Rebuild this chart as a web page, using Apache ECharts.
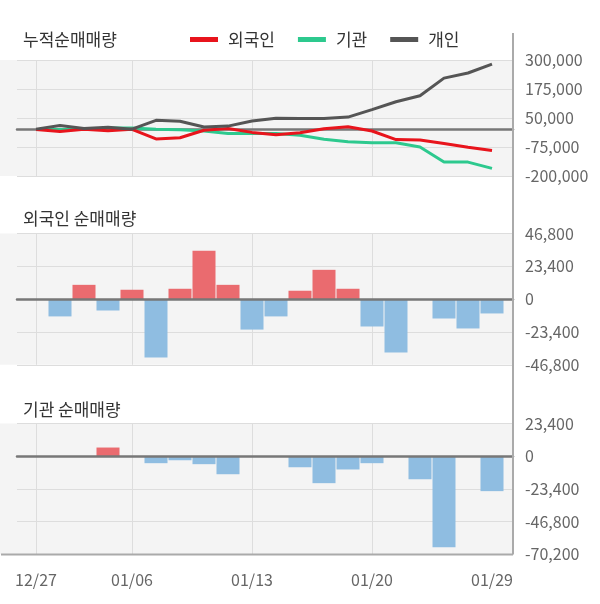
<!DOCTYPE html>
<html>
<head>
<meta charset="utf-8">
<script src="https://cdn.jsdelivr.net/npm/echarts@6/dist/echarts.min.js"></script>
<style>
html,body{margin:0;padding:0;background:#fff;}
#chart{width:600px;height:604px;}
</style>
</head>
<body>
<div id="chart"></div>
<script>
const dates = ['12/27','12/30','01/02','01/03','01/06','01/07','01/08','01/09','01/10','01/13','01/14','01/15','01/16','01/17','01/20','01/21','01/22','01/23','01/28','01/29'];
const labelDays = ['12/27','01/06','01/13','01/20','01/29'];
const gridDays = ['12/27','01/06','01/13','01/20'];

const cumForeign = [0,-8000,1000,-5000,1000,-40000,-35000,-3000,5000,-12000,-22000,-14000,4000,12000,-6000,-43000,-45000,-60000,-76000,-90000];
const cumInst = [0,0,0,7000,7000,2000,-1000,-6000,-17000,-17000,-17000,-24000,-42000,-52000,-57000,-57000,-75000,-140000,-140000,-167000];
const cumIndiv = [2000,18000,5000,10000,2000,40000,36000,11000,15000,37000,49000,48000,48000,54000,86000,120000,146000,222000,244000,282000];

const dailyForeign = [0,-12300,10200,-8100,6700,-41600,7400,34500,10200,-21700,-12300,6000,20900,7400,-19500,-38000,0,-13800,-20900,-10200];
const dailyInst = [0,0,0,6200,0,-5000,-2900,-5700,-12900,0,0,-7900,-19300,-9500,-5000,0,-16500,-65100,0,-25000];

const titles = ['누적순매매량','외국인 순매매량','기관 순매매량'];
const seriesNames = ['외국인','기관','개인'];

const FONT = '"Noto Sans CJK KR", "Noto Sans", sans-serif';
const RED = '#e8141c', GREEN = '#2dc98e', DARK = '#555555';
const BAR_RED = '#ea6b6f', BAR_BLUE = '#8fbde1';

const panels = [
  {top:60, height:116, min:-200000, max:300000, interval:125000, titleY:40},
  {top:233.5, height:131.3, min:-46800, max:46800, interval:23400, titleY:219},
  {top:423.5, height:130.8, min:-70200, max:23400, interval:23400, titleY:410}
];

function addCommas(v){
  const s = Math.abs(Math.round(v)).toString().replace(/\B(?=(\d{3})+(?!\d))/g, ',');
  return (v < 0 ? '-' : '') + s;
}

const grids = [], xAxes = [], yAxes = [], graphics = [];
panels.forEach((p, i) => {
  grids.push({left:17, width:496, top:p.top, height:p.height, containLabel:false});
  grids.push({left:36, width:456, top:p.top, height:p.height, containLabel:false});
  // axes grid
  xAxes.push({
    type:'value', gridIndex:2*i, min:0, max:1, z: i === 0 ? 1 : 5,
    axisLine:{show:true, onZero:true, lineStyle:{color:'#777777', width:2.5}},
    axisTick:{show:false}, axisLabel:{show:false}, splitLine:{show:false}
  });
  yAxes.push({
    type:'value', gridIndex:2*i, position:'right', min:p.min, max:p.max, interval:p.interval,
    axisLine:{show:false}, axisTick:{show:false},
    axisLabel:{margin:12, color:'#666666', fontSize:16, fontFamily:FONT, formatter:addCommas},
    splitLine:{show:true, lineStyle:{color:'#dddddd', width:1}}
  });
  // data grid
  xAxes.push({
    type:'category', gridIndex:2*i+1, data:dates, boundaryGap:false,
    axisLine:{show:false, onZero:false}, axisTick:{show:false},
    axisLabel: i === 2 ? {
      show:true, margin:18, color:'#666666', fontSize:16, fontFamily:FONT,
      interval:(idx, val) => labelDays.indexOf(val) >= 0
    } : {show:false},
    splitLine:{show:true, interval:(idx, val) => gridDays.indexOf(val) >= 0, lineStyle:{color:'#dddddd', width:1}}
  });
  yAxes.push({type:'value', gridIndex:2*i+1, min:p.min, max:p.max, interval:p.interval, show:false});

  graphics.push({type:'rect', z:-100, silent:true, shape:{x:0, y:p.top, width:513, height:p.height}, style:{fill:'#f4f4f4'}});
  graphics.push({type:'text', silent:true, style:{text:titles[i], x:23, y:p.titleY, verticalAlign:'middle', fill:'#333333', font:'17px ' + FONT}});
});
graphics.push({type:'line', silent:true, z:50, shape:{x1:513, y1:33, x2:513, y2:554.5}, style:{stroke:'#aaaaaa', lineWidth:2}});
graphics.push({type:'line', silent:true, z:50, shape:{x1:1, y1:554.5, x2:513, y2:554.5}, style:{stroke:'#aaaaaa', lineWidth:2}});

function lineSeries(name, data, color){
  return {name, type:'line', xAxisIndex:1, yAxisIndex:1, data, symbol:'none', showSymbol:false,
    lineStyle:{color, width:3}, itemStyle:{color}, z:3};
}
function barSeries(name, data, axis){
  return {name, type:'bar', xAxisIndex:axis, yAxisIndex:axis, data, barWidth:23, clip:false,
    itemStyle:{color:(pr) => pr.value >= 0 ? BAR_RED : BAR_BLUE}, z:2};
}

const option = {
  animation:false,
  backgroundColor:'#ffffff',
  textStyle:{fontFamily:FONT},
  grid:grids, xAxis:xAxes, yAxis:yAxes,
  graphic:graphics,
  legend:{
    data:seriesNames, left:185, top:26, itemWidth:28, itemHeight:5, itemGap:23, icon:'rect',
    textStyle:{fontSize:17, color:'#333333', fontFamily:FONT, padding:[0,0,0,5]}
  },
  series:[
    lineSeries('기관', cumInst, GREEN),
    lineSeries('외국인', cumForeign, RED),
    lineSeries('개인', cumIndiv, DARK),
    barSeries('외국인 순매매량', dailyForeign, 3),
    barSeries('기관 순매매량', dailyInst, 5)
  ]
};

const chart = echarts.init(document.getElementById('chart'));
chart.setOption(option);
</script>
</body>
</html>
